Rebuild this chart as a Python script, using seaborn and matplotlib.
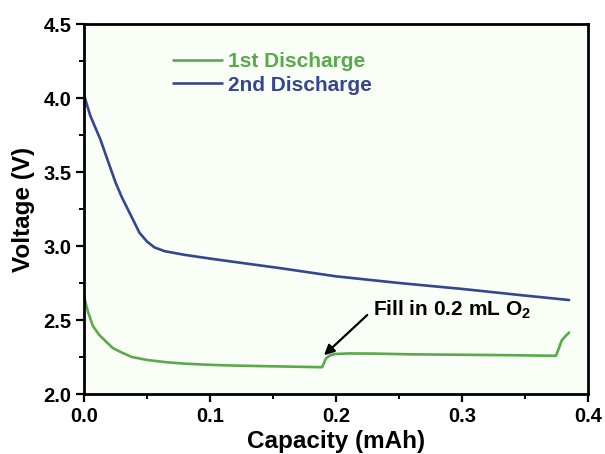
import matplotlib
matplotlib.use("Agg")
import matplotlib.pyplot as plt
from matplotlib.ticker import MultipleLocator
import numpy as np
import pandas as pd
import seaborn as sns

# First discharge: plateau, O2 refill near 0.19 mAh, then end-of-discharge rise
cap_1st = [0.0, 0.003, 0.007, 0.012, 0.018, 0.023, 0.030, 0.038, 0.050, 0.065,
           0.080, 0.100, 0.120, 0.150, 0.170, 0.189, 0.1905, 0.192, 0.195, 0.199,
           0.210, 0.230, 0.260, 0.300, 0.340, 0.3745, 0.3765, 0.379, 0.382, 0.385]
volt_1st = [2.66, 2.56, 2.46, 2.40, 2.35, 2.31, 2.28, 2.25, 2.23, 2.215,
            2.205, 2.197, 2.192, 2.187, 2.184, 2.181, 2.21, 2.24, 2.26, 2.27,
            2.274, 2.273, 2.268, 2.265, 2.262, 2.258, 2.30, 2.36, 2.39, 2.415]

# Second discharge
cap_2nd = [0.0, 0.005, 0.013, 0.020, 0.025, 0.030, 0.037, 0.044, 0.050, 0.056,
           0.064, 0.080, 0.100, 0.130, 0.156, 0.200, 0.250, 0.300, 0.350, 0.385]
volt_2nd = [4.02, 3.88, 3.72, 3.55, 3.43, 3.33, 3.21, 3.09, 3.03, 2.99,
            2.965, 2.94, 2.915, 2.88, 2.85, 2.795, 2.75, 2.71, 2.665, 2.635]

series_names = ["1st Discharge", "2nd Discharge"]
series_colors = ["#5aa94b", "#36458f"]

x_ticks = [0.0, 0.1, 0.2, 0.3, 0.4]
y_ticks = [2.0, 2.5, 3.0, 3.5, 4.0, 4.5]

annotation_text = "Fill in 0.2 mL O$_\\mathbf{2}$"

df = pd.concat([
    pd.DataFrame({"Capacity": cap_1st, "Voltage": volt_1st, "run": series_names[0]}),
    pd.DataFrame({"Capacity": cap_2nd, "Voltage": volt_2nd, "run": series_names[1]}),
], ignore_index=True)

sns.set_style("ticks")
plt.rcParams["font.family"] = ["Liberation Sans", "DejaVu Sans"]
plt.rcParams["font.weight"] = "bold"
plt.rcParams["text.color"] = "black"
plt.rcParams["axes.labelcolor"] = "black"
plt.rcParams["mathtext.fontset"] = "custom"
plt.rcParams["mathtext.rm"] = "Liberation Sans:bold"
plt.rcParams["mathtext.bf"] = "Liberation Sans:bold"

fig = plt.figure(figsize=(6.05, 4.54), dpi=100)
ax = fig.add_axes([84 / 605, (454 - 394) / 454, 504 / 605, 370 / 454])
ax.set_facecolor("#f9fef6")

sns.lineplot(data=df, x="Capacity", y="Voltage", hue="run",
             palette=dict(zip(series_names, series_colors)),
             linewidth=1.9, ax=ax, sort=False, estimator=None)

ax.set_xlim(0, 0.4)
ax.set_ylim(2.0, 4.5)
ax.set_xticks(x_ticks)
ax.set_yticks(y_ticks)
ax.set_xticklabels([f"{t:.1f}" for t in x_ticks])
ax.set_yticklabels([f"{t:.1f}" for t in y_ticks])
ax.xaxis.set_minor_locator(MultipleLocator(0.05))
ax.yaxis.set_minor_locator(MultipleLocator(0.25))
ax.tick_params(which="major", direction="out", length=6, width=1.6,
               labelsize=14.5, pad=3, colors="black")
ax.tick_params(which="minor", direction="out", length=3.5, width=1.4,
               colors="black")
for lab in ax.get_xticklabels() + ax.get_yticklabels():
    lab.set_fontweight("bold")

for side in ["left", "right", "top", "bottom"]:
    ax.spines[side].set_linewidth(2.0)
    ax.spines[side].set_color("black")

ax.set_xlabel("Capacity (mAh)", fontsize=17.5, fontweight="bold",
              color="black", labelpad=3)
ax.set_ylabel("Voltage (V)", fontsize=17.5, fontweight="bold",
              color="black", labelpad=6)

leg = ax.legend(loc="upper left", bbox_to_anchor=(0.177, 0.923), frameon=False,
                handlelength=2.35, handletextpad=0.3, labelspacing=0.2,
                borderpad=0, borderaxespad=0, labelcolor="linecolor",
                prop={"weight": "bold", "size": 15})
for line in leg.get_lines():
    line.set_linewidth(1.9)

ax.annotate(annotation_text, xy=(0.1905, 2.262), xytext=(0.229, 2.57),
            fontsize=15, fontweight="bold", va="center", ha="left",
            color="black",
            arrowprops=dict(arrowstyle="-|>", color="black", lw=1.6,
                            mutation_scale=15, shrinkA=2, shrinkB=0,
                            relpos=(-0.02, 0.35)))

fig.savefig("out.png", dpi=100, facecolor="white")
